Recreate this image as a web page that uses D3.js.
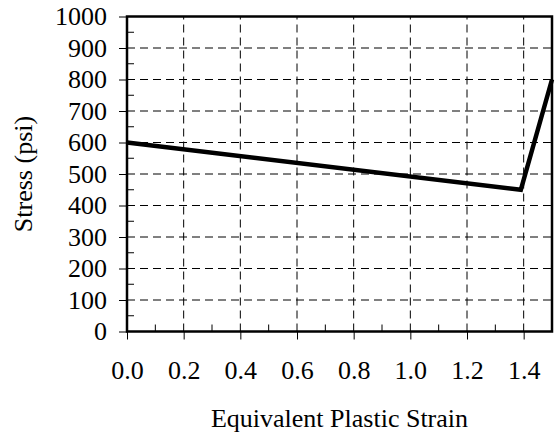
<!DOCTYPE html>
<html>
<head>
<meta charset="utf-8">
<script src="https://cdn.jsdelivr.net/npm/d3@7.9.0/dist/d3.min.js"></script>
<style>
  html, body { margin: 0; padding: 0; background: #fff; }
  text { font-family: "Liberation Serif", "Times New Roman", serif; fill: #000; }
</style>
</head>
<body>
<svg id="chart" width="555" height="437"></svg>
<script>
// data
const strain = [0.0, 1.39, 1.5];
const stress = [600, 450, 800];
const xTicks = [0, 0.2, 0.4, 0.6, 0.8, 1.0, 1.2, 1.4];
const yTicks = [0, 100, 200, 300, 400, 500, 600, 700, 800, 900, 1000];
const xMinor = [0.1, 0.3, 0.5, 0.7, 0.9, 1.1, 1.3, 1.5];
const yMinor = [50, 150, 250, 350, 450, 550, 650, 750, 850, 950];

const width = 555, height = 437;
const margin = { top: 16.5, right: 3, bottom: 105.5, left: 127 };
const svg = d3.select('#chart');

const x = d3.scaleLinear().domain([0, 1.5]).range([margin.left, width - margin.right]);
const y = d3.scaleLinear().domain([0, 1000]).range([height - margin.bottom, margin.top]);

// dashed grid
const grid = svg.append('g').attr('stroke', '#000').attr('stroke-width', 1).attr('stroke-dasharray', '8,5');
grid.selectAll('line.h').data(yTicks.slice(1, -1)).join('line')
  .attr('x1', x(0)).attr('x2', x(1.5))
  .attr('y1', d => y(d)).attr('y2', d => y(d));
grid.selectAll('line.v').data(xTicks.slice(1)).join('line')
  .attr('x1', d => x(d)).attr('x2', d => x(d))
  .attr('y1', y(0)).attr('y2', y(1000));

// minor ticks pointing inward
svg.append('g').selectAll('line').data(yMinor).join('line')
  .attr('x1', x(0)).attr('x2', x(0) + 7)
  .attr('y1', d => y(d)).attr('y2', d => y(d))
  .attr('stroke', '#000').attr('stroke-width', 1);
svg.append('g').selectAll('line').data(xMinor).join('line')
  .attr('x1', d => x(d)).attr('x2', d => x(d))
  .attr('y1', y(0)).attr('y2', y(0) - 7)
  .attr('stroke', '#000').attr('stroke-width', 1);

// axes
const yAxis = svg.append('g')
  .attr('transform', `translate(${margin.left},0)`)
  .call(d3.axisLeft(y).tickValues(yTicks).tickSize(8).tickPadding(12).tickFormat(d3.format('d')));
const xAxis = svg.append('g')
  .attr('transform', `translate(0,${y(0)})`)
  .call(d3.axisBottom(x).tickValues(xTicks).tickSize(8).tickPadding(21).tickFormat(d3.format('.1f')));
[yAxis, xAxis].forEach(g => {
  g.attr('font-family', null).attr('font-size', null);
  g.select('.domain').remove();
  g.selectAll('.tick line').attr('stroke', '#000').attr('stroke-width', 1);
  g.selectAll('.tick text').attr('font-size', 26);
});

// frame
svg.append('rect')
  .attr('x', x(0)).attr('y', y(1000))
  .attr('width', x(1.5) - x(0)).attr('height', y(0) - y(1000))
  .attr('fill', 'none').attr('stroke', '#000').attr('stroke-width', 2.5);

// curve
const pts = strain.map((s, i) => [s, stress[i]]);
svg.append('path')
  .datum(pts)
  .attr('fill', 'none')
  .attr('stroke', '#000')
  .attr('stroke-width', 4.5)
  .attr('stroke-linejoin', 'miter')
  .attr('d', d3.line().x(d => x(d[0])).y(d => y(d[1])));

// axis titles
svg.append('text')
  .attr('x', (x(0) + x(1.5)) / 2).attr('y', 427)
  .attr('text-anchor', 'middle').attr('font-size', 26)
  .text('Equivalent Plastic Strain');
svg.append('text')
  .attr('transform', `translate(32,${(y(0) + y(1000)) / 2}) rotate(-90)`)
  .attr('text-anchor', 'middle').attr('font-size', 26)
  .text('Stress (psi)');
</script>
</body>
</html>
